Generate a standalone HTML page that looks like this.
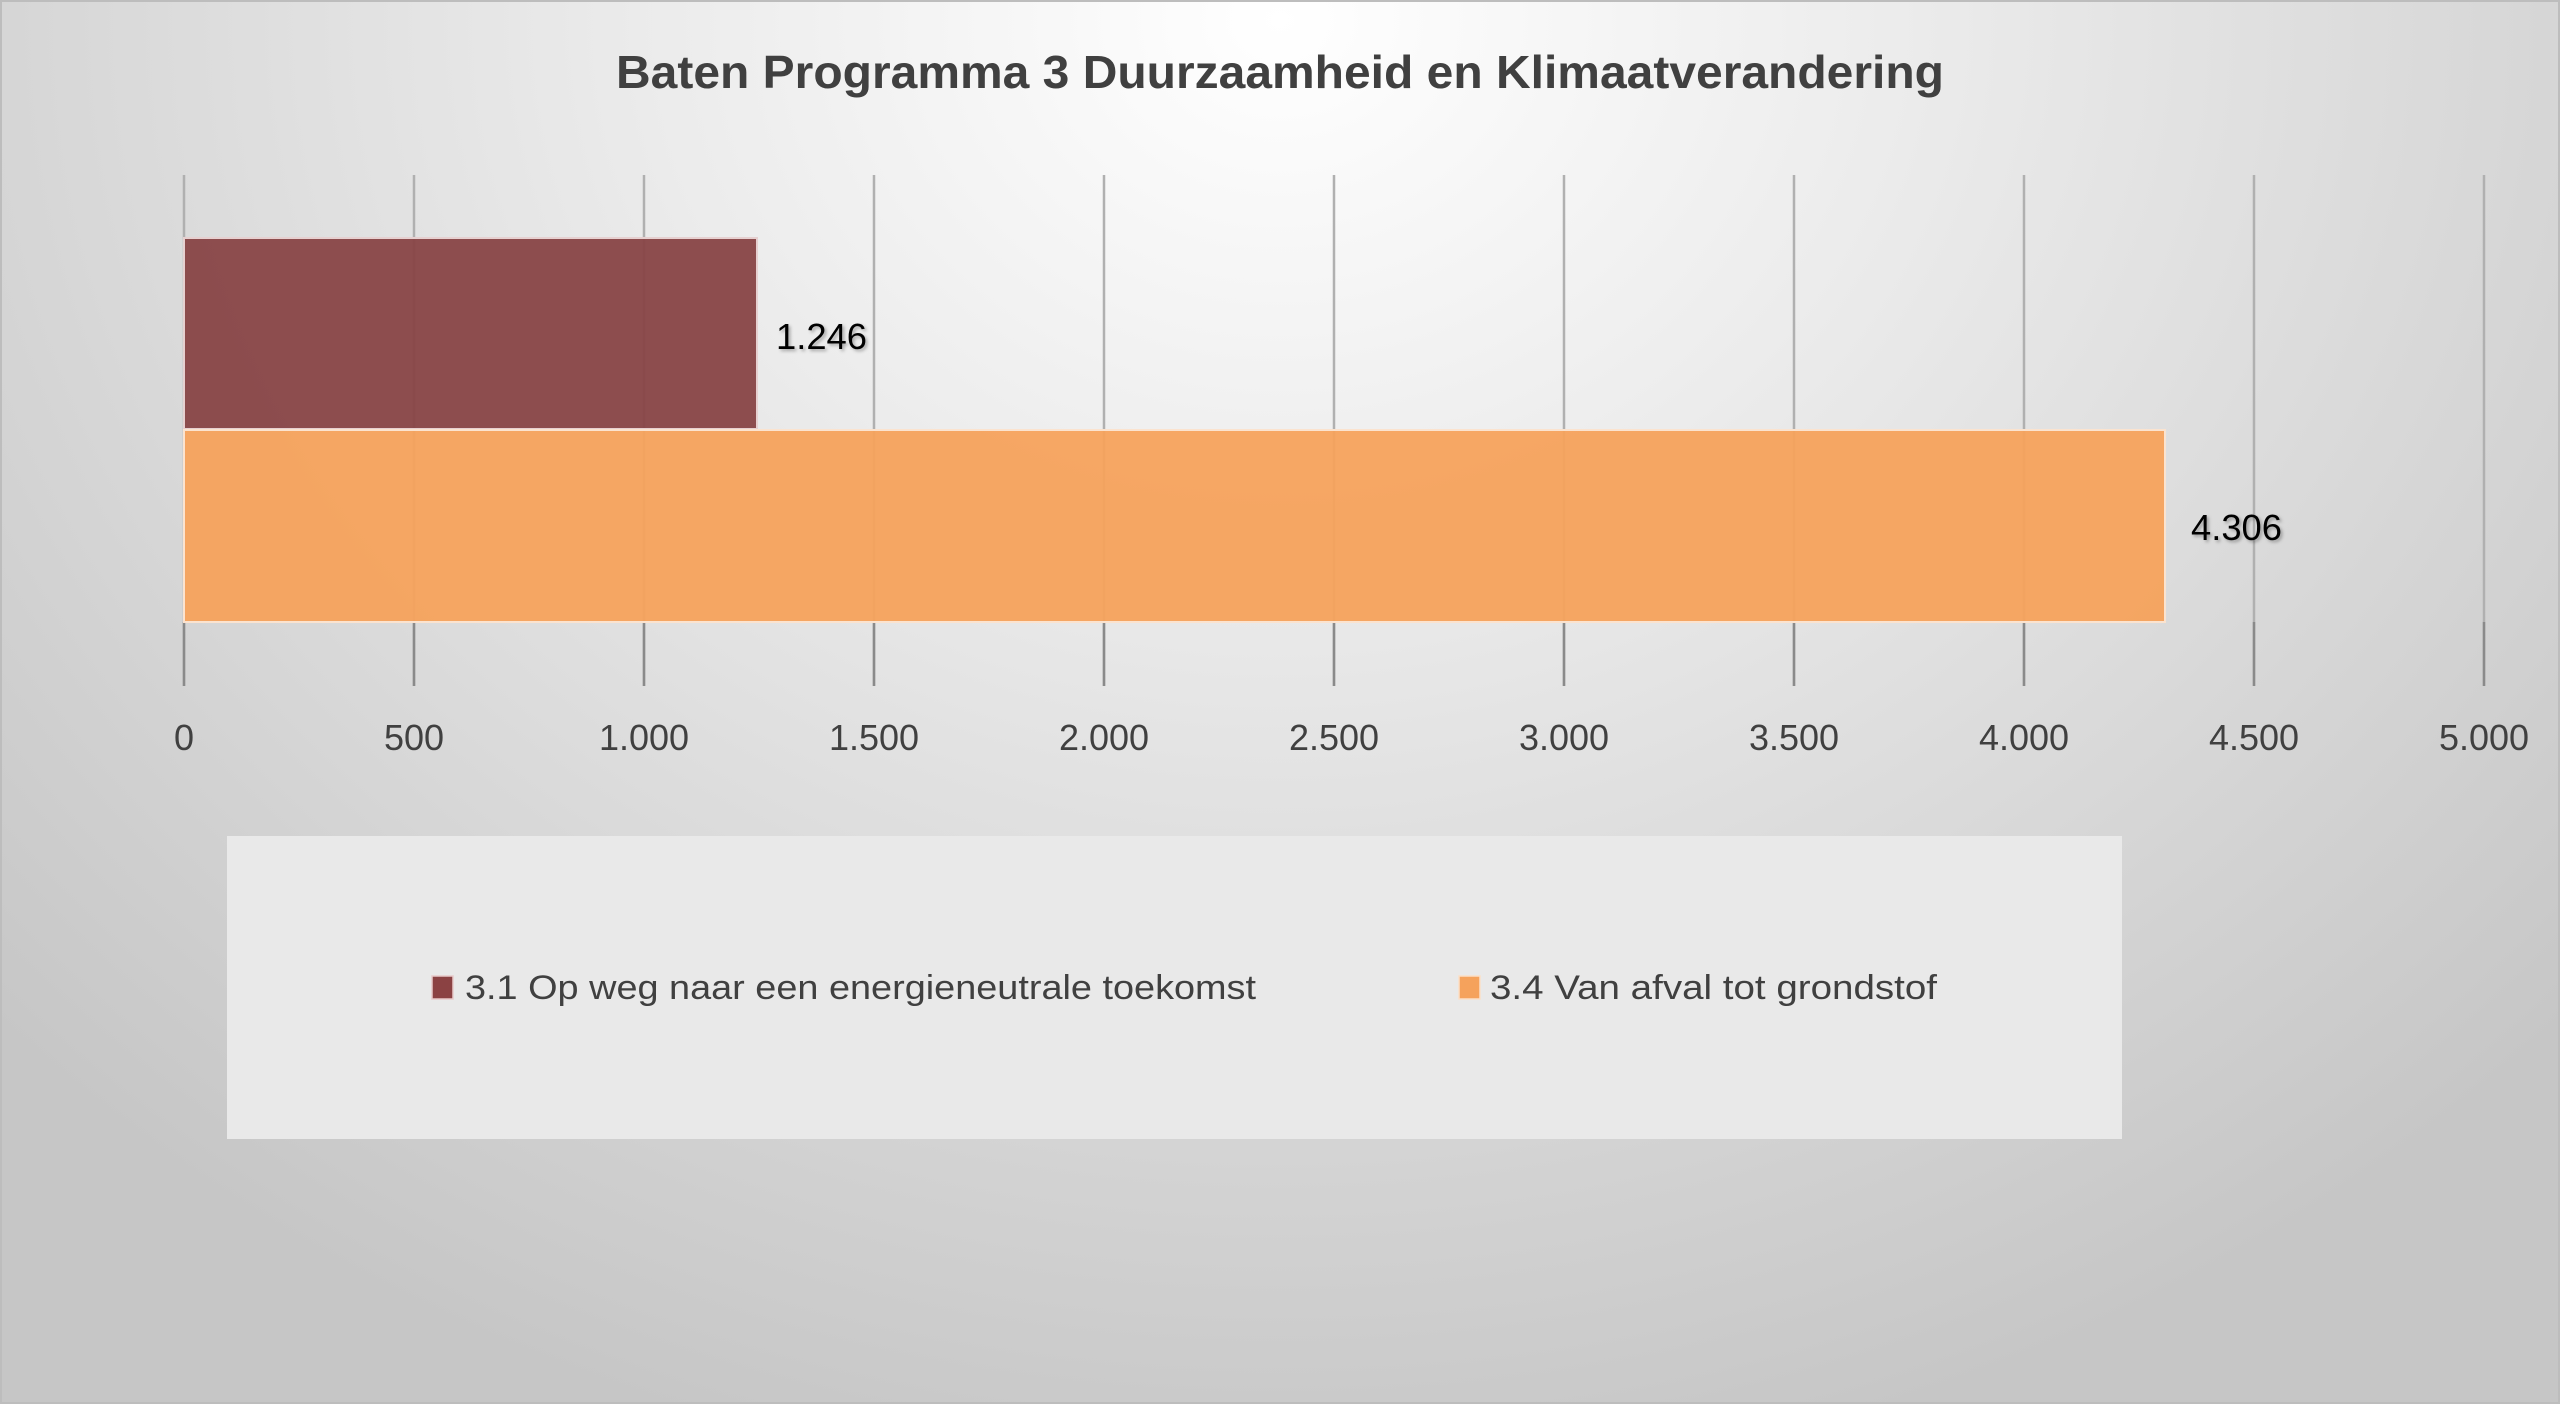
<!DOCTYPE html>
<html><head><meta charset="utf-8"><style>
html,body{margin:0;padding:0;background:#fff;}
svg{display:block;}
</style></head><body>
<svg width="2560" height="1404" viewBox="0 0 2560 1404" xmlns="http://www.w3.org/2000/svg">
<defs>
<radialGradient id="bg" gradientUnits="userSpaceOnUse" cx="1280" cy="20" r="1750" gradientTransform="translate(1280 20) scale(1 0.85) translate(-1280 -20)">
<stop offset="0" stop-color="#ffffff"/>
<stop offset="0.35" stop-color="#ececec"/>
<stop offset="1" stop-color="#c6c6c6"/>
</radialGradient>
<filter id="sh" x="-10%" y="-20%" width="130%" height="150%"><feDropShadow dx="2" dy="2" stdDeviation="1.5" flood-color="#000" flood-opacity="0.3"/></filter>
</defs>
<rect x="0" y="0" width="2560" height="1404" fill="url(#bg)"/>
<rect x="1" y="1" width="2558" height="1402" fill="none" stroke="#bdbdbd" stroke-width="2"/>
<text x="1280" y="88" text-anchor="middle" font-family="Liberation Sans, sans-serif" font-weight="bold" font-size="46" fill="#404040" textLength="1328" lengthAdjust="spacingAndGlyphs">Baten Programma 3 Duurzaamheid en Klimaatverandering</text>
<g stroke="#b0b0b0" stroke-width="2.5">
<line x1="184" y1="175" x2="184" y2="686"/>
<line x1="414" y1="175" x2="414" y2="686"/>
<line x1="644" y1="175" x2="644" y2="686"/>
<line x1="874" y1="175" x2="874" y2="686"/>
<line x1="1104" y1="175" x2="1104" y2="686"/>
<line x1="1334" y1="175" x2="1334" y2="686"/>
<line x1="1564" y1="175" x2="1564" y2="686"/>
<line x1="1794" y1="175" x2="1794" y2="686"/>
<line x1="2024" y1="175" x2="2024" y2="686"/>
<line x1="2254" y1="175" x2="2254" y2="686"/>
<line x1="2484" y1="175" x2="2484" y2="686"/>
</g>
<g stroke="#8a8a8a" stroke-width="2.5">
<line x1="184" y1="622" x2="184" y2="686"/><line x1="414" y1="622" x2="414" y2="686"/><line x1="644" y1="622" x2="644" y2="686"/><line x1="874" y1="622" x2="874" y2="686"/><line x1="1104" y1="622" x2="1104" y2="686"/><line x1="1334" y1="622" x2="1334" y2="686"/><line x1="1564" y1="622" x2="1564" y2="686"/><line x1="1794" y1="622" x2="1794" y2="686"/><line x1="2024" y1="622" x2="2024" y2="686"/><line x1="2254" y1="622" x2="2254" y2="686"/><line x1="2484" y1="622" x2="2484" y2="686"/>
</g>
<rect x="184" y="238" width="573" height="191" fill="#884546" fill-opacity="0.95" stroke="#e6d0d0" stroke-width="2"/>
<rect x="184" y="430" width="1981" height="192" fill="#f5a25c" fill-opacity="0.95" stroke="#fbe3cf" stroke-width="2"/>
<g font-family="Liberation Sans, sans-serif" font-size="36" fill="#000" filter="url(#sh)">
<text x="776" y="349" textLength="91" lengthAdjust="spacingAndGlyphs">1.246</text>
<text x="2191" y="540" textLength="91" lengthAdjust="spacingAndGlyphs">4.306</text>
</g>
<g font-family="Liberation Sans, sans-serif" font-size="36" fill="#404040" text-anchor="middle">
<text x="184" y="750">0</text>
<text x="414" y="750">500</text>
<text x="644" y="750">1.000</text>
<text x="874" y="750">1.500</text>
<text x="1104" y="750">2.000</text>
<text x="1334" y="750">2.500</text>
<text x="1564" y="750">3.000</text>
<text x="1794" y="750">3.500</text>
<text x="2024" y="750">4.000</text>
<text x="2254" y="750">4.500</text>
<text x="2484" y="750">5.000</text>
</g>
<rect x="227" y="836" width="1895" height="303" fill="#e9e9e9"/>
<rect x="432" y="976" width="21" height="23" fill="#8b4243" stroke="#e8caca" stroke-width="1.5"/>
<rect x="1459" y="976" width="21" height="23" fill="#f5a25c" stroke="#fbe0c8" stroke-width="1.5"/>
<g font-family="Liberation Sans, sans-serif" font-size="34" fill="#404040">
<text x="465" y="999" textLength="791" lengthAdjust="spacingAndGlyphs">3.1 Op weg naar een energieneutrale toekomst</text>
<text x="1490" y="999" textLength="447" lengthAdjust="spacingAndGlyphs">3.4 Van afval tot grondstof</text>
</g>
</svg>
</body></html>
